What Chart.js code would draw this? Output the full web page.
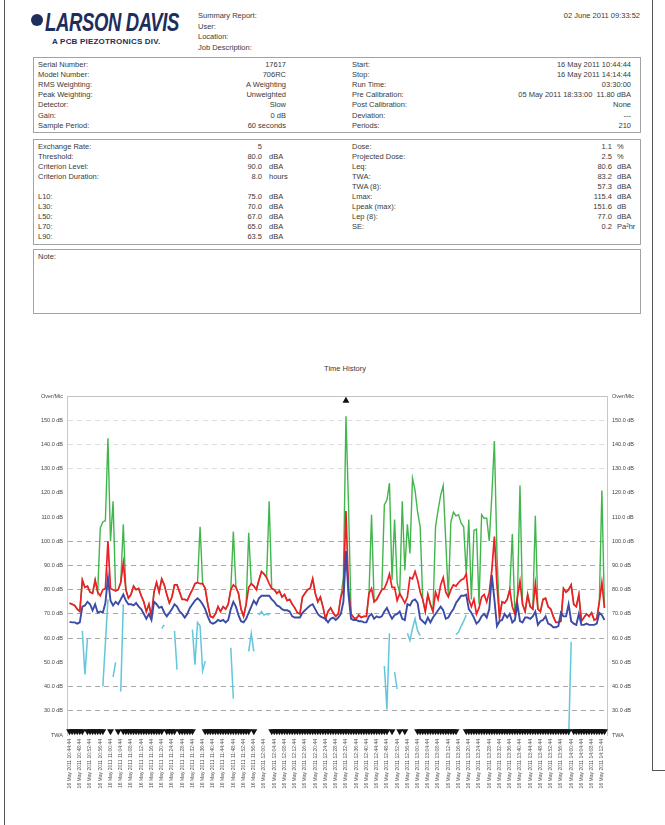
<!DOCTYPE html>
<html>
<head>
<meta charset="utf-8">
<title>Summary Report</title>
<script src="https://cdn.jsdelivr.net/npm/chart.js@4.4.0/dist/chart.umd.min.js"></script>
<style>
  body { margin: 0; background: #fff; }
  #page { position: relative; width: 665px; height: 825px; overflow: hidden;
          font-family: 'Liberation Sans', Arial, sans-serif; font-size: 7.5px; color: #3a3a3a; }
  .t { position: absolute; white-space: pre; line-height: 9px; }
  .box { position: absolute; border: 1px solid #a3a3a3; }
  .vline { position: absolute; width: 1px; background: #555; }
  .hline { position: absolute; height: 1px; background: #555; }
  #logo { position: absolute; left: 45px; top: 8px; font-size: 25px; font-weight: bold; font-style: italic;
          color: #1d2d5c; letter-spacing: -0.5px; transform: scale(0.74, 1); transform-origin: left top; }
  #emblem { position: absolute; left: 31px; top: 14px; width: 12px; height: 12px; border-radius: 50%; background: #1d2d5c; }
  #sub { position: absolute; left: 52px; top: 37px; font-size: 8px; font-weight: bold; color: #1d2d5c; letter-spacing: 0.2px; }
  #chart { position: absolute; left: 0; top: 355px; }
</style>
</head>
<body>
<div id="page">
  <div class="vline" style="left:4px; top:0; height:825px;"></div>
  <div class="vline" style="left:652px; top:0; height:770px;"></div>
  <div class="hline" style="left:652px; top:770px; width:13px;"></div>

  <div id="emblem"></div>
  <div id="logo">LARSON DAVIS</div>
  <div id="sub">A PCB PIEZOTRONICS DIV.</div>

  <div class="t" style="left:198px; top:10.5px;">Summary Report:</div>
  <div class="t" style="left:198px; top:21.5px;">User:</div>
  <div class="t" style="left:198px; top:32px;">Location:</div>
  <div class="t" style="left:198px; top:42.5px;">Job Description:</div>
  <div class="t" style="right:25px; top:10.5px;">02 June 2011 09:33:52</div>

  <div class="box" style="left:33px; top:57px; width:606px; height:74px;"></div>
  <div class="box" style="left:33px; top:139px; width:606px; height:104px;"></div>
  <div class="box" style="left:33px; top:249px; width:606px; height:63px;"></div>
  <div class="t" style="left:38px; top:252px;">Note:</div>

  <div id="rows"></div>

  <div class="t" style="left:245px; width:200px; top:364px; text-align:center; font-size:7.5px;">Time History</div>
  <canvas id="chart" width="665" height="450"></canvas>
</div>

<script>
// report fields
const infoLeft = [
    ['Serial Number:', '17617'],
    ['Model Number:', '706RC'],
    ['RMS Weighting:', 'A Weighting'],
    ['Peak Weighting:', 'Unweighted'],
    ['Detector:', 'Slow'],
    ['Gain:', '0 dB'],
    ['Sample Period:', '60 seconds']
];
const infoRight = [
    ['Start:', '16 May 2011 10:44:44'],
    ['Stop:', '16 May 2011 14:14:44'],
    ['Run Time:', '03:30:00'],
    ['Pre Calibration:', '05 May 2011 18:33:00  11.80 dBA'],
    ['Post Calibration:', 'None'],
    ['Deviation:', '---'],
    ['Periods:', '210']
];
const statsLeft = [
    ['Exchange Rate:', '5', ''],
    ['Threshold:', '80.0', 'dBA'],
    ['Criterion Level:', '90.0', 'dBA'],
    ['Criterion Duration:', '8.0', 'hours'],
    ['', '', ''],
    ['L10:', '75.0', 'dBA'],
    ['L30:', '70.0', 'dBA'],
    ['L50:', '67.0', 'dBA'],
    ['L70:', '65.0', 'dBA'],
    ['L90:', '63.5', 'dBA']
];
const statsRight = [
    ['Dose:', '1.1', '%'],
    ['Projected Dose:', '2.5', '%'],
    ['Leq:', '80.6', 'dBA'],
    ['TWA:', '83.2', 'dBA'],
    ['TWA (8):', '57.3', 'dBA'],
    ['Lmax:', '115.4', 'dBA'],
    ['Lpeak (max):', '151.6', 'dB'],
    ['Lep (8):', '77.0', 'dBA'],
    ['SE:', '0.2', 'Pa²hr'],
    ['', '', '']
];

// time history (one value per 60 s period)
const tickLabels = [
    '16 May 2011 10:44:44', '16 May 2011 10:48:44', '16 May 2011 10:52:44', '16 May 2011 10:56:44',
    '16 May 2011 11:00:44', '16 May 2011 11:04:44', '16 May 2011 11:08:44', '16 May 2011 11:12:44',
    '16 May 2011 11:16:44', '16 May 2011 11:20:44', '16 May 2011 11:24:44', '16 May 2011 11:28:44',
    '16 May 2011 11:32:44', '16 May 2011 11:36:44', '16 May 2011 11:40:44', '16 May 2011 11:44:44',
    '16 May 2011 11:48:44', '16 May 2011 11:52:44', '16 May 2011 11:56:44', '16 May 2011 12:00:44',
    '16 May 2011 12:04:44', '16 May 2011 12:08:44', '16 May 2011 12:12:44', '16 May 2011 12:16:44',
    '16 May 2011 12:20:44', '16 May 2011 12:24:44', '16 May 2011 12:28:44', '16 May 2011 12:32:44',
    '16 May 2011 12:36:44', '16 May 2011 12:40:44', '16 May 2011 12:44:44', '16 May 2011 12:48:44',
    '16 May 2011 12:52:44', '16 May 2011 12:56:44', '16 May 2011 13:00:44', '16 May 2011 13:04:44',
    '16 May 2011 13:08:44', '16 May 2011 13:12:44', '16 May 2011 13:16:44', '16 May 2011 13:20:44',
    '16 May 2011 13:24:44', '16 May 2011 13:28:44', '16 May 2011 13:32:44', '16 May 2011 13:36:44',
    '16 May 2011 13:40:44', '16 May 2011 13:44:44', '16 May 2011 13:48:44', '16 May 2011 13:52:44',
    '16 May 2011 13:56:44', '16 May 2011 14:00:44', '16 May 2011 14:04:44', '16 May 2011 14:08:44',
    '16 May 2011 14:12:44'
];

const lmax = [
    74.5, 74, 73.5, 72, 71, 84, 81, 81.5, 79, 78.5,
    84, 79, 77.5, 80, 80.5, 100, 80.5, 80, 79.5, 80,
    83, 91, 80, 76.5, 78, 81.5, 80, 80.5, 77.5, 75,
    71, 74, 69, 79, 83, 79, 84.5, 82, 78, 74.5,
    77, 82, 82, 79, 76, 76, 75.5, 78, 80, 82.5,
    83, 82.5, 82.5, 80.5, 74, 69, 68.5, 70, 73, 71,
    73, 72, 74, 80, 82, 81, 78.5, 72, 69, 74,
    81, 82.5, 81.5, 80, 84, 87.5, 86.5, 85, 82.5, 80.5,
    80, 78.5, 79.5, 77, 78, 75.5, 76, 74, 72.5, 70.5,
    70, 77, 78.5, 80, 80.5, 84.5, 78.5, 75, 77, 73,
    68, 71, 72.5, 70.5, 69, 70, 77, 80, 112.5, 80,
    70, 68.5, 68, 69.5, 68.5, 69, 69, 78.5, 80.5, 75,
    76, 78, 80, 80.5, 83, 86.5, 81, 81, 75.5, 78.5,
    76.5, 74.5, 77, 85, 84.5, 87.5, 84, 79, 76, 71,
    78, 74, 71, 79, 76, 82, 85, 79, 77, 80,
    82, 81.5, 83, 84, 84.5, 86.5, 76, 73, 76, 70,
    72.5, 77, 78, 75, 79, 88, 102, 82, 68.5, 75,
    74.5, 76, 80, 73, 70, 77, 83.5, 74, 71, 78,
    73, 72, 82.5, 72, 71, 76, 76.5, 73, 72, 69,
    66.5, 66.5, 67, 80.5, 79, 80, 82, 74, 73, 78,
    67, 68.5, 70, 69, 70.5, 67.5, 68, 75, 83, 72.5
];

const leq = [
    66.7, 66.5, 66.5, 66, 66.5, 73, 73.5, 75, 74, 71.5,
    74, 70.5, 71, 70.5, 74.5, 85, 75.5, 73.5, 75, 74,
    76, 78, 75.5, 74, 74, 73.5, 74.5, 73, 72, 70,
    68, 70, 67.5, 75, 74, 72.5, 73, 70.5, 69, 70.5,
    72, 74, 73, 71, 70, 68.5, 70, 72.5, 74, 75.5,
    76.5, 75.5, 74, 72, 69, 66.5, 66, 66.5, 67.5, 67,
    67.5, 66.5, 67.5, 72, 75, 73, 69.5, 67, 66.5, 68,
    70.5, 73, 75.5, 74, 76.5, 77.5, 77.5, 77.5, 77.5, 76,
    75, 73.5, 73, 72, 71.5, 71.5, 71, 69, 68.5, 68.5,
    68.5, 70.5, 71.5, 72.5, 73.5, 74, 72, 70, 69, 68.5,
    68, 66.5, 68, 68.5, 67.5, 68.5, 70, 75, 96, 78,
    68, 67.5, 67.5, 67, 67, 66.5, 66.5, 69, 70, 68,
    69, 68.5, 69, 71, 72.5, 70, 68, 69.5, 70, 71,
    68, 67.5, 74, 73.5, 75.5, 76, 74.5, 68, 67, 66,
    68.5, 66.5, 68.5, 70, 71.5, 73, 71.5, 68, 68.5, 70.5,
    72, 74.5, 76, 77.5, 77.5, 78, 72, 70.5, 68.5, 66,
    67, 69, 70, 68.5, 72, 86, 76, 65, 67, 67.5,
    70, 68.5, 70, 66.5, 67.5, 74, 67, 66.5, 68.5, 68.5,
    68, 69, 71, 65.5, 67, 67.5, 69, 66, 65.5, 64.5,
    64.5, 65, 70.5, 69, 69, 74, 67, 66, 65.5, 70,
    65.5, 65.5, 66, 65.5, 65.5, 65.5, 66, 70.5, 69.5, 67.5
];

const lpeak = [
    74.5, 74, 73.5, 72, 71, 84, 81, 81.5, 79, 78.5,
    84, 79, 105.5, 108, 108.5, 142.5, 100, 116.5, 79.5, 80,
    83, 107, 80, 76.5, 78, 81.5, 80, 80.5, 77.5, 75,
    71, 74, 69, 79, 83, 79, 84.5, 82, 78, 74.5,
    77, 82, 82, 79, 76, 76, 75.5, 78, 80, 82.5,
    83, 106, 82.5, 80.5, 74, 69, 68.5, 70, 73, 71,
    73, 72, 74, 80, 104, 81, 78.5, 72, 69, 74,
    103.5, 82.5, 81.5, 80, 84, 87.5, 86.5, 85, 116.5, 80.5,
    80, 78.5, 79.5, 77, 78, 75.5, 76, 74, 72.5, 70.5,
    70, 77, 78.5, 80, 80.5, 84.5, 78.5, 75, 77, 73,
    68, 71, 72.5, 70.5, 69, 70, 77, 85, 151.6, 115,
    70, 68.5, 68, 69.5, 68.5, 69, 69, 78.5, 111, 75,
    76, 78, 80, 115, 117, 124, 84, 109, 83, 78.5,
    116.5, 88, 107, 95, 126, 121, 112, 106, 76, 71,
    78, 74, 71, 106, 113, 119, 123, 100, 77, 108,
    112, 110.5, 111, 107.5, 106, 86.5, 109, 76, 104.5, 105,
    74, 111, 109.5, 109.5, 100, 119, 141.4, 95, 68.5, 75,
    74.5, 76, 80, 103, 70, 77, 123, 74, 71, 78,
    73, 72, 110.5, 72, 71, 76, 76.5, 73, 72, 69,
    66.5, 66.5, 67, 80.5, 79, 80, 82, 74, 73, 78,
    67, 68.5, 70, 69, 70.5, 67.5, 68, 75, 121, 72.5
];

// TWA trace is broken into pieces: [first period, values]
const twaSegments = [
    [5, [63, 45, 60]],
    [13, [40, 58, 76]],
    [17, [44, 50]],
    [20, [38, 74]],
    [36, [64, 65.5]],
    [41, [63, 47]],
    [48, [63.5, 49, 66.5, 65, 46.5, 50.5]],
    [63, [56, 35]],
    [70, [54.5, 62, 54.5]],
    [74, [69.5, 71, 69.5, 70, 69.5]],
    [123, [48.5, 30.5, 62]],
    [127, [46, 39]],
    [132, [62, 59, 64, 68, 63, 61]],
    [151, [61.5, 62.5, 65, 67, 69.5]],
    [195, [18, 58.5]]
];

// periods flagged in the TWA marker row, as [from, to]
const twaMarkRanges = [
    [0, 5], [7, 13], [16, 16], [19, 19], [21, 36], [38, 41], [43, 48], [53, 70], [72, 72],
    [79, 124], [126, 126], [129, 129], [131, 131], [136, 151], [155, 195], [197, 209]
];
// periods flagged in the Over/Mic row
const overMarks = [108];

const TWA_ROW = 21.6;
const OVER_ROW = 158;

function renderRows() {
    const container = document.getElementById('rows');
    let html = '';
    infoLeft.forEach((r, i) => {
        const top = 59.5 + i * 10.2;
        html += `<div class="t" style="left:38px; top:${top}px;">${r[0]}</div>`;
        html += `<div class="t" style="right:${665 - 286}px; top:${top}px;">${r[1]}</div>`;
    });
    infoRight.forEach((r, i) => {
        const top = 59.5 + i * 10.2;
        html += `<div class="t" style="left:352px; top:${top}px;">${r[0]}</div>`;
        html += `<div class="t" style="right:${665 - 631}px; top:${top}px;">${r[1]}</div>`;
    });
    statsLeft.forEach((r, i) => {
        const top = 141.5 + i * 10;
        html += `<div class="t" style="left:38px; top:${top}px;">${r[0]}</div>`;
        html += `<div class="t" style="right:${665 - 262}px; top:${top}px;">${r[1]}</div>`;
        html += `<div class="t" style="left:269px; top:${top}px;">${r[2]}</div>`;
    });
    statsRight.forEach((r, i) => {
        const top = 141.5 + i * 10;
        html += `<div class="t" style="left:352px; top:${top}px;">${r[0]}</div>`;
        html += `<div class="t" style="right:${665 - 612}px; top:${top}px;">${r[1]}</div>`;
        html += `<div class="t" style="left:617px; top:${top}px;">${r[2]}</div>`;
    });
    container.innerHTML = html;
}

function toPoints(values) {
    return values.map((y, i) => ({ x: i, y: y }));
}

function twaPoints() {
    const pts = [];
    twaSegments.forEach(([start, vals]) => {
        pts.push({ x: start - 0.5, y: null });
        vals.forEach((v, k) => pts.push({ x: start + k, y: v }));
    });
    return pts;
}

function markPoints() {
    const pts = [];
    twaMarkRanges.forEach(([a, b]) => {
        for (let i = a; i <= b; i++) pts.push({ x: i, y: TWA_ROW });
    });
    return pts;
}

const faintLines = [130, 140, 150];
const hiddenLines = [20, 50, 110, 120];

function gridColor(ctx) {
    const v = ctx.tick ? ctx.tick.value : null;
    if (v === 160) return '#c2c2c2';
    if (hiddenLines.includes(v)) return 'rgba(0,0,0,0)';
    if (faintLines.includes(v)) return '#dedede';
    return '#a9a9a9';
}

function yLabel(v) {
    if (v === 160) return 'Over/Mic';
    if (v === 20) return 'TWA';
    return v.toFixed(1) + ' dB';
}

function renderChart() {
    Chart.defaults.font.family = "'Liberation Sans', Arial, sans-serif";
    Chart.defaults.color = '#444';

    const tickFont = { size: 5.5 };

    new Chart(document.getElementById('chart'), {
        type: 'line',
        data: {
            datasets: [
                {
                    label: 'Lpeak',
                    data: toPoints(lpeak),
                    borderColor: '#41b64c',
                    borderWidth: 1.4,
                    order: 4
                },
                {
                    label: 'Lmax',
                    data: toPoints(lmax),
                    borderColor: '#ee1f25',
                    borderWidth: 1.7,
                    order: 3
                },
                {
                    label: 'Leq',
                    data: toPoints(leq),
                    borderColor: '#3c4ba6',
                    borderWidth: 1.9,
                    order: 2
                },
                {
                    label: 'TWA',
                    data: twaPoints(),
                    borderColor: '#62c6dd',
                    borderWidth: 1.5,
                    spanGaps: false,
                    order: 1
                },
                {
                    label: 'TWA marks',
                    data: markPoints(),
                    showLine: false,
                    pointStyle: 'triangle',
                    rotation: 180,
                    pointRadius: 4,
                    backgroundColor: '#111',
                    borderColor: '#111',
                    borderWidth: 0,
                    clip: 8,
                    order: 0
                },
                {
                    label: 'Over/Mic marks',
                    data: overMarks.map(i => ({ x: i, y: OVER_ROW })),
                    showLine: false,
                    pointStyle: 'triangle',
                    pointRadius: 4,
                    backgroundColor: '#111',
                    borderColor: '#111',
                    borderWidth: 0,
                    clip: 8,
                    order: 0
                }
            ]
        },
        options: {
            responsive: false,
            animation: false,
            events: [],
            layout: {
                padding: { top: 41, left: 0, right: 0, bottom: 0 }
            },
            elements: {
                point: { radius: 0 },
                line: { tension: 0 }
            },
            plugins: {
                legend: { display: false },
                tooltip: { enabled: false }
            },
            scales: {
                x: {
                    type: 'linear',
                    min: -1,
                    max: 210,
                    afterBuildTicks: scale => {
                        scale.ticks = tickLabels.map((_, i) => ({ value: i * 4 }));
                    },
                    afterFit: scale => { scale.height = 70; },
                    grid: { display: false, drawTicks: false },
                    border: { display: false },
                    ticks: {
                        autoSkip: false,
                        minRotation: 90,
                        maxRotation: 90,
                        padding: 4,
                        font: { size: 5 },
                        color: '#555',
                        callback: (value, index) => tickLabels[index]
                    }
                },
                y: {
                    position: 'left',
                    min: 20,
                    max: 160,
                    afterFit: scale => { scale.width = 67; },
                    grid: { color: gridColor, lineWidth: 1, drawTicks: false },
                    border: {
                        color: '#c8c8c8',
                        dash: ctx => (ctx.tick && ctx.tick.value === 160) ? [] : [5, 4]
                    },
                    ticks: {
                        stepSize: 10,
                        padding: 4,
                        font: tickFont,
                        color: '#444',
                        callback: yLabel
                    }
                },
                y2: {
                    position: 'right',
                    min: 20,
                    max: 160,
                    afterFit: scale => { scale.width = 58; },
                    grid: { drawOnChartArea: false, drawTicks: false },
                    border: { color: '#c8c8c8' },
                    ticks: {
                        stepSize: 10,
                        padding: 5,
                        font: tickFont,
                        color: '#444',
                        callback: yLabel
                    }
                }
            }
        }
    });
}

renderRows();
renderChart();
</script>
</body>
</html>
